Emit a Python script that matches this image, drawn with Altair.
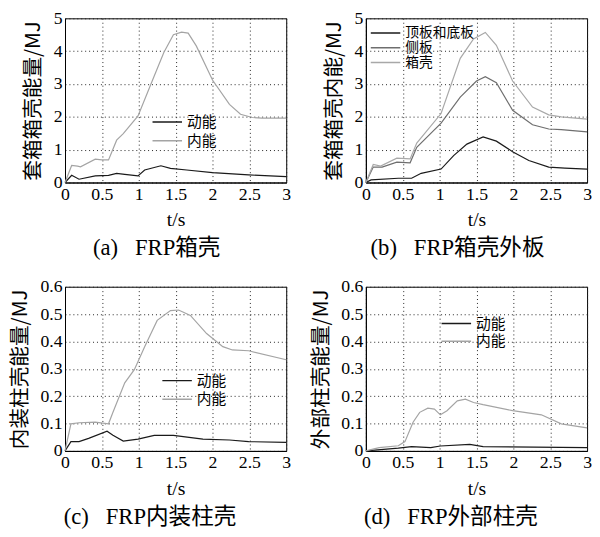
import altair as alt
import pandas as pd

# ---------- (a) FRP箱壳 ----------
a_kin_t = [0, 0.09, 0.19, 0.41, 0.59, 0.70, 0.81, 0.99, 1.08, 1.30, 1.43, 1.65, 2.00, 2.49, 3.00]
a_kin_v = [0, 0.22, 0.10, 0.20, 0.22, 0.28, 0.25, 0.20, 0.38, 0.51, 0.43, 0.38, 0.30, 0.23, 0.18]
a_int_t = [0, 0.09, 0.17, 0.21, 0.41, 0.50, 0.59, 0.70, 0.79, 0.99, 1.16, 1.34, 1.47, 1.58, 1.67,
           1.78, 2.00, 2.23, 2.38, 2.54, 2.67, 3.00]
a_int_v = [0, 0.52, 0.50, 0.48, 0.71, 0.69, 0.69, 1.29, 1.49, 2.03, 2.97, 3.96, 4.50, 4.58, 4.55,
           4.16, 3.12, 2.38, 2.08, 1.98, 1.96, 1.96]

# ---------- (b) FRP箱壳外板 ----------
b_shell_t = [0, 0.10, 0.20, 0.42, 0.60, 0.69, 1.02, 1.28, 1.46, 1.62, 1.77, 1.99, 2.26, 2.48, 2.65, 3.00]
b_shell_v = [0, 0.55, 0.50, 0.74, 0.72, 1.20, 2.10, 3.78, 4.37, 4.57, 4.18, 3.09, 2.30, 2.06, 2.00, 1.93]
b_side_t = [0, 0.10, 0.22, 0.42, 0.60, 0.69, 1.02, 1.28, 1.50, 1.62, 1.77, 1.99, 2.26, 2.48, 2.65, 3.00]
b_side_v = [0, 0.47, 0.47, 0.62, 0.60, 1.07, 1.81, 2.60, 3.09, 3.22, 3.04, 2.20, 1.76, 1.63, 1.61, 1.54]
b_top_t = [0, 0.07, 0.44, 0.62, 0.75, 1.02, 1.19, 1.37, 1.59, 1.77, 1.99, 2.21, 2.48, 2.70, 3.00]
b_top_v = [0, 0.08, 0.13, 0.13, 0.28, 0.41, 0.82, 1.17, 1.39, 1.26, 0.94, 0.67, 0.47, 0.44, 0.41]

# ---------- (c) FRP内装柱壳 ----------
c_kin_t = [0, 0.08, 0.19, 0.32, 0.57, 0.65, 0.79, 0.99, 1.21, 1.47, 1.87, 2.23, 2.49, 3.00]
c_kin_v = [0, 0.034, 0.034, 0.046, 0.072, 0.057, 0.036, 0.043, 0.057, 0.057, 0.043, 0.040, 0.034, 0.031]
c_int_t = [0, 0.08, 0.19, 0.41, 0.59, 0.65, 0.81, 0.94, 1.08, 1.25, 1.43, 1.54, 1.70, 1.92, 2.14,
           2.27, 2.49, 3.00]
c_int_v = [0, 0.099, 0.103, 0.105, 0.099, 0.141, 0.249, 0.297, 0.381, 0.477, 0.513, 0.515, 0.495,
           0.429, 0.381, 0.369, 0.366, 0.333]

# ---------- (d) FRP外部柱壳 ----------
d_kin_t = [0, 0.44, 0.62, 0.88, 1.01, 1.41, 1.59, 3.00]
d_kin_v = [0, 0.010, 0.016, 0.012, 0.018, 0.024, 0.016, 0.012]
d_int_t = [0, 0.18, 0.44, 0.53, 0.64, 0.73, 0.84, 0.93, 1.01, 1.10, 1.24, 1.35, 1.46, 1.59, 1.99,
           2.38, 2.65, 3.00]
d_int_v = [0, 0.012, 0.019, 0.034, 0.105, 0.141, 0.156, 0.153, 0.132, 0.147, 0.183, 0.189, 0.177,
           0.169, 0.147, 0.132, 0.099, 0.084]

x_ticks = [0, 0.5, 1, 1.5, 2, 2.5, 3]
y_ticks_ab = [0, 1, 2, 3, 4, 5]
y_ticks_cd = [0, 0.1, 0.2, 0.3, 0.4, 0.5, 0.6]

SERIF = "Liberation Serif, Noto Sans CJK SC"
SANS = "Noto Sans CJK SC"
SP = "\u00a0\u00a0\u00a0"


def make_df(series):
    rows = []
    for name, ts, vs in series:
        for t, v in zip(ts, vs):
            rows.append({"t": t, "v": v, "s": name})
    return pd.DataFrame(rows)


def panel(series, colors, ymax, yticks, ytitle, caption, lx, ly, lfs, rowpad):
    df = make_df(series)
    names = [s[0] for s in series]
    return alt.Chart(df).mark_line(strokeWidth=1.2).encode(
        x=alt.X("t:Q", scale=alt.Scale(domain=[0, 3], nice=False),
                axis=alt.Axis(values=x_ticks, format="~g", title="t/s")),
        y=alt.Y("v:Q", scale=alt.Scale(domain=[0, ymax], nice=False),
                axis=alt.Axis(values=yticks, format="~g", title=ytitle)),
        color=alt.Color("s:N", scale=alt.Scale(domain=names, range=colors),
                        legend=alt.Legend(orient="none", legendX=lx, legendY=ly, title=None,
                                          symbolType="stroke", symbolSize=900,
                                          symbolStrokeWidth=1.5, labelFont=SANS,
                                          labelFontSize=lfs, labelOffset=4,
                                          clipHeight=lfs, rowPadding=rowpad,
                                          labelColor="black")),
    ).properties(
        width=225, height=167,
        title=alt.TitleParams(caption, orient="bottom", font=SERIF, fontSize=23,
                              fontWeight="normal", anchor="middle", frame="bounds",
                              offset=8, color="black"),
    )


pa = panel([("动能", a_kin_t, a_kin_v), ("内能", a_int_t, a_int_v)],
           ["#1a1a1a", "#a4a4a4"], 5, y_ticks_ab, "套箱箱壳能量/MJ", "(a)" + SP + "FRP箱壳",
           88, 98, 15, 3)
pb = panel([("顶板和底板", b_top_t, b_top_v), ("侧板", b_side_t, b_side_v),
            ("箱壳", b_shell_t, b_shell_v)],
           ["#1a1a1a", "#6e6e6e", "#a8a8a8"], 5, y_ticks_ab, "套箱箱壳内能/MJ",
           "(b)" + SP + "FRP箱壳外板", 4, 8, 14, 1)
pc = panel([("动能", c_kin_t, c_kin_v), ("内能", c_int_t, c_int_v)],
           ["#1a1a1a", "#a4a4a4"], 0.6, y_ticks_cd, "内装柱壳能量/MJ", "(c)" + SP + "FRP内装柱壳",
           98, 88, 15, 3)
pd_ = panel([("动能", d_kin_t, d_kin_v), ("内能", d_int_t, d_int_v)],
            ["#1a1a1a", "#a4a4a4"], 0.6, y_ticks_cd, "外部柱壳能量/MJ", "(d)" + SP + "FRP外部柱壳",
            76, 30, 15, 2)

chart = alt.concat(pa, pb, pc, pd_, columns=2, spacing={"row": 16, "column": 18}).resolve_scale(
    color="independent"
).resolve_legend(color="independent").properties(
    padding={"left": 0, "top": -4, "right": 0, "bottom": 0},
    background="white",
).configure_view(
    stroke="black", strokeWidth=1
).configure_axis(
    labelFont=SERIF, labelFontSize=18, labelColor="black", labelPadding=3,
    titleColor="black", titleFontWeight="normal",
    domainColor="black", ticks=False,
    grid=True, gridColor="#222", gridDash=[1, 3], gridOpacity=1, gridWidth=1,
).configure_axisY(
    titleFont=SANS, titleFontSize=21, titlePadding=10,
).configure_axisX(
    titleFont=SERIF, titleFontSize=20, titlePadding=7, labelFlush=False,
)

chart.save("out.html", embed_options={"renderer": "svg", "actions": False})
